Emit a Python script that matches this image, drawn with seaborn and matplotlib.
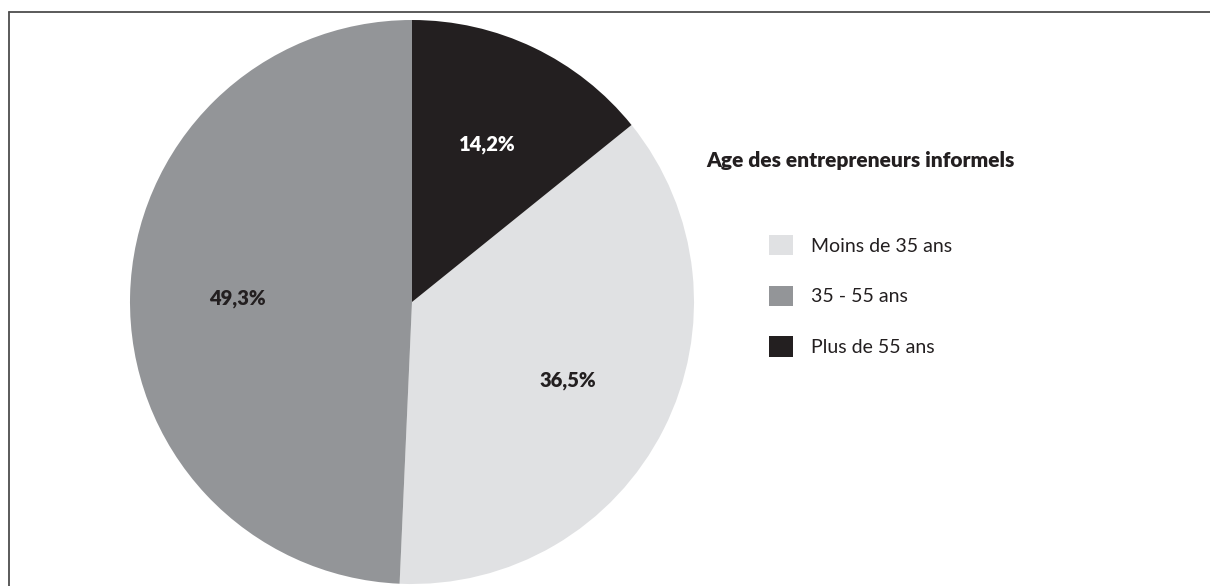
import matplotlib
matplotlib.use("Agg")
import matplotlib.pyplot as plt
from matplotlib.lines import Line2D
import seaborn as sns

# data, in legend order
categories = ["Moins de 35 ans", "35 - 55 ans", "Plus de 55 ans"]
shares = [36.5, 49.3, 14.2]
colors = ["#e0e1e3", "#939598", "#231f20"]
label_colors = ["#231f20", "#231f20", "white"]
title = "Age des entrepreneurs informels"

sns.set_theme(style="white")
plt.rcParams["font.family"] = ["Lato", "DejaVu Sans"]

W, H = 1210, 586
fig = plt.figure(figsize=(W / 100, H / 100), dpi=100)

# pie axes: centre (412, 302), radius 282 px
cx, cy, r = 412, 302, 282
ax = fig.add_axes([(cx - r) / W, 1 - (cy + r) / H, 2 * r / W, 2 * r / H])

# dark slice ends at 12 o'clock, drawing clockwise
start = 90 - shares[-1] / 100 * 360
wedges, _, autotexts = ax.pie(
    shares, colors=colors, startangle=start, counterclock=False,
    autopct=lambda p: f"{p:.1f}%".replace(".", ","), pctdistance=0.62,
    wedgeprops=dict(linewidth=0), radius=1)
for t, c in zip(autotexts, label_colors):
    t.set_color(c)
    t.set_fontsize(14.5)
    t.set_fontweight("heavy")
ax.set_xlim(-1, 1)
ax.set_ylim(-1, 1)
ax.set_aspect("equal")
ax.axis("off")

fig.text(706 / W, 1 - 160 / H, title, fontsize=15, fontweight="heavy",
         color="#231f20", va="center", ha="left")

fig.legend(wedges, categories, loc="upper left",
           bbox_to_anchor=(769 / W, 1 - 235 / H), frameon=False,
           fontsize=14, handlelength=1.24, handleheight=1.24,
           handletextpad=0.9, labelspacing=1.55, borderpad=0,
           borderaxespad=0, labelcolor="#231f20")

# thin frame on top and left edges
fig.add_artist(Line2D([9 / W, 1], [1 - 12 / H, 1 - 12 / H],
                      color="#4d4d4d", lw=1.3, transform=fig.transFigure))
fig.add_artist(Line2D([9 / W, 9 / W], [0, 1 - 12 / H],
                      color="#4d4d4d", lw=1.3, transform=fig.transFigure))

fig.savefig("out.png", dpi=100)
